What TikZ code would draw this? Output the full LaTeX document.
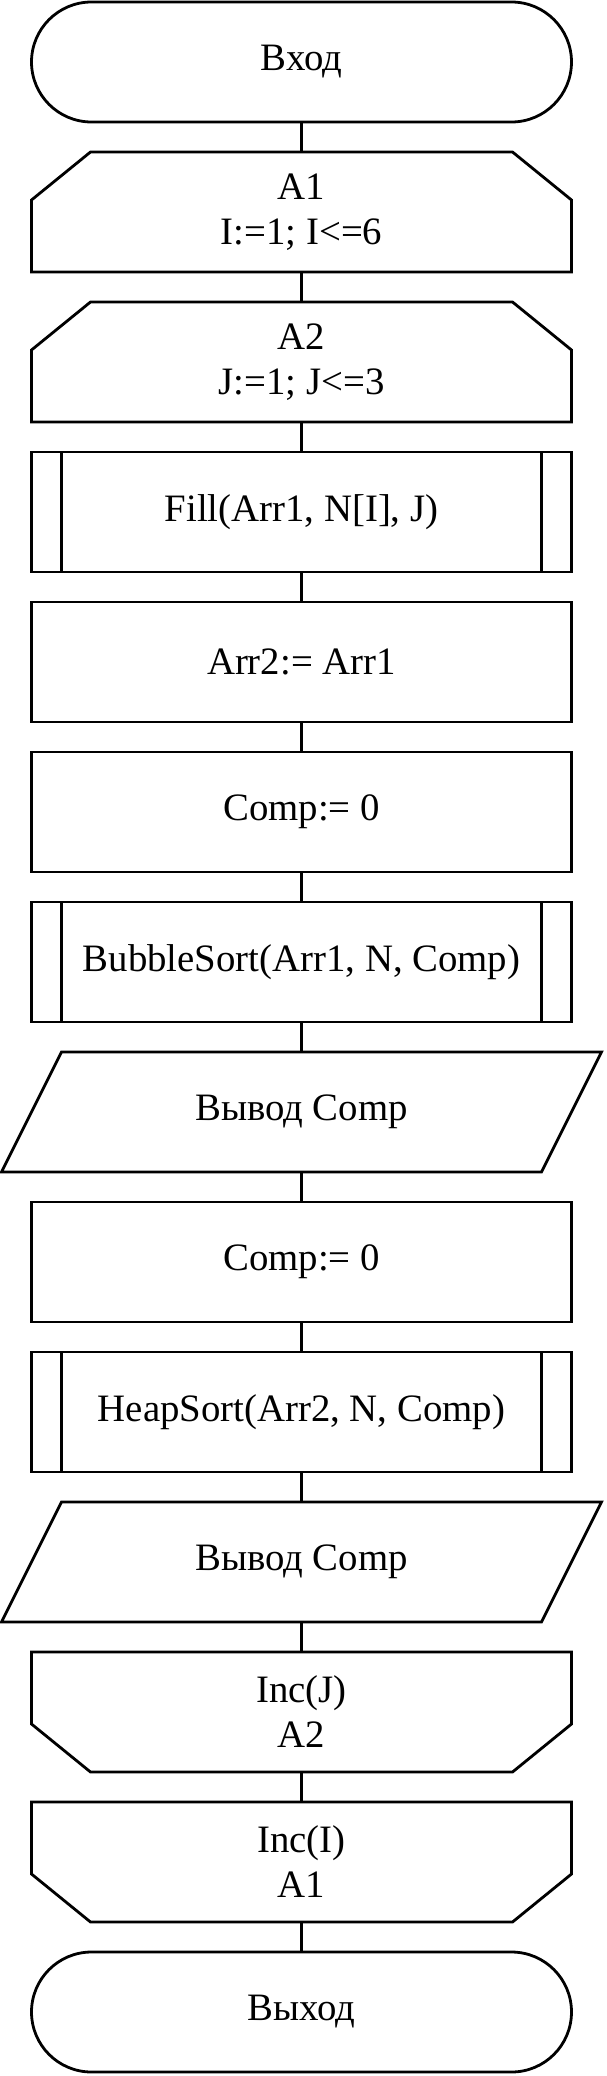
\documentclass[tikz,border=0pt]{standalone}
\usepackage{fontspec}
\setmainfont{Liberation Serif}
\usetikzlibrary{positioning}

\tikzset{
  block/.style={rectangle, minimum width=270pt, minimum height=60pt, inner sep=0pt, outer sep=0pt, align=center},
  proc/.style={block, draw},
  term/.style={block, draw, rounded corners=30pt},
}

\begin{document}
\begin{tikzpicture}[line width=1.4pt, node distance=15pt, font=\fontsize{19.4}{22.5}\selectfont]
    \useasboundingbox (0,0) rectangle (303pt,-1038pt);

    \node[term] (start) at (150.75pt,-31pt) {Вход};
    \node[block, below=of start] (a1) {A1\\I:=1; I<=6};
    \node[block, below=of a1] (a2) {A2\\J:=1; J<=3};
    \node[proc, below=of a2] (fill) {Fill(Arr1, N[I], J)};
    \node[proc, below=of fill] (copy) {Arr2:= Arr1};
    \node[proc, below=of copy] (comp1) {Comp:= 0};
    \node[proc, below=of comp1] (bubble) {BubbleSort(Arr1, N, Comp)};
    \node[block, below=of bubble] (out1) {Вывод Comp};
    \node[proc, below=of out1] (comp2) {Comp:= 0};
    \node[proc, below=of comp2] (heap) {HeapSort(Arr2, N, Comp)};
    \node[block, below=of heap] (out2) {Вывод Comp};
    \node[block, below=of out2] (incj) {Inc(J)\\A2};
    \node[block, below=of incj] (inci) {Inc(I)\\A1};
    \node[term, below=of inci] (stop) {Выход};

    % loop heads
    \foreach \n in {a1, a2}
      \draw ([yshift=-24pt]\n.north west) -- ([xshift=29.5pt]\n.north west) -- ([xshift=-29.5pt]\n.north east) -- ([yshift=-24pt]\n.north east) -- (\n.south east) -- (\n.south west) -- cycle;

    % loop ends
    \foreach \n in {incj, inci}
      \draw (\n.north west) -- (\n.north east) -- ([yshift=24pt]\n.south east) -- ([xshift=-29.5pt]\n.south east) -- ([xshift=29.5pt]\n.south west) -- ([yshift=24pt]\n.south west) -- cycle;

    % subroutine calls
    \foreach \n in {fill, bubble, heap} {
      \draw ([xshift=15pt]\n.north west) -- ([xshift=15pt]\n.south west);
      \draw ([xshift=-15pt]\n.north east) -- ([xshift=-15pt]\n.south east);
    }

    % output
    \foreach \n in {out1, out2}
      \draw ([xshift=15pt]\n.north west) -- ([xshift=15pt]\n.north east) -- ([xshift=-15pt]\n.south east) -- ([xshift=-15pt]\n.south west) -- cycle;

    \foreach \a/\b in {start/a1, a1/a2, a2/fill, fill/copy, copy/comp1, comp1/bubble, bubble/out1, out1/comp2, comp2/heap, heap/out2, out2/incj, incj/inci, inci/stop}
      \draw (\a.south) -- (\b.north);
\end{tikzpicture}
\end{document}
